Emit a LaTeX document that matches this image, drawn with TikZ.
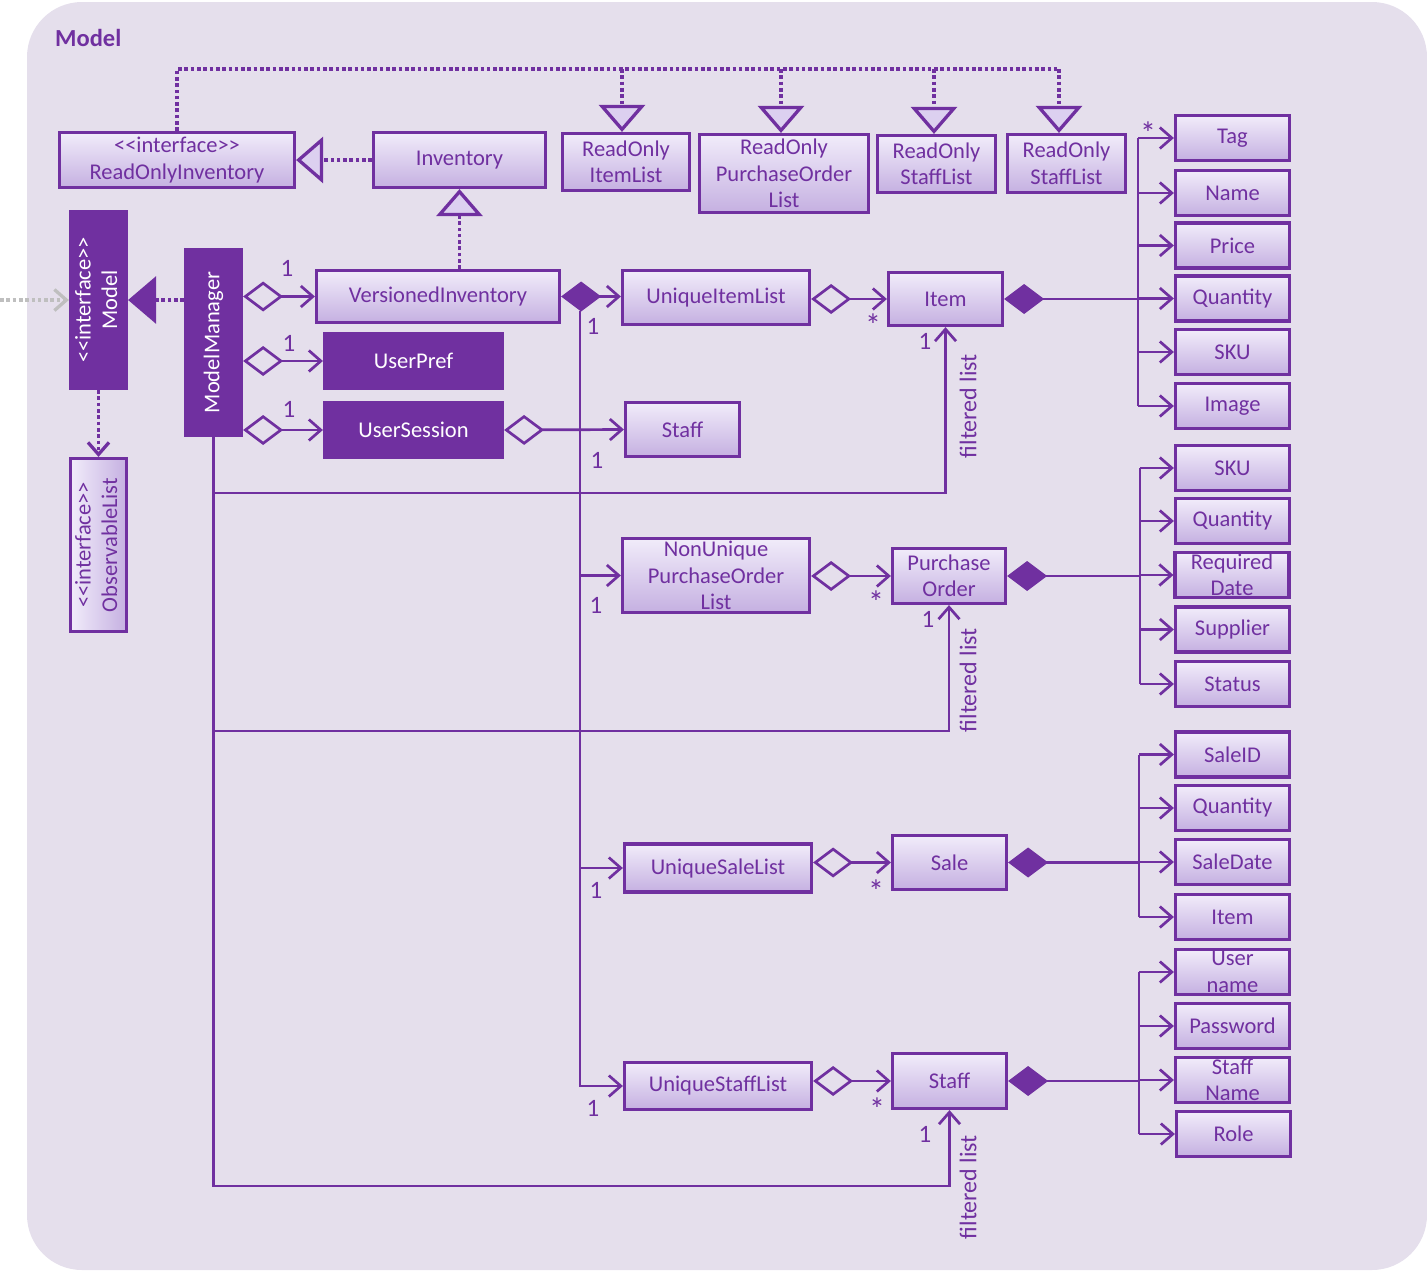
\documentclass[tikz,border=0pt]{standalone}
\usepackage{fontspec}
\setmainfont{Carlito}[Ligatures=TeXOff]
\usetikzlibrary{arrows.meta}
\definecolor{pur}{HTML}{7030A0}
\definecolor{bgc}{HTML}{E5DFEC}
\definecolor{boxtop}{HTML}{F1ECFA}
\definecolor{boxbot}{HTML}{C5B0E1}
\definecolor{trifill}{HTML}{DCD0F0}
\definecolor{grayc}{HTML}{BFBFBF}

\begin{document}
\begin{tikzpicture}[x=1pt,y=-1pt,
  txt/.style={font=\fontsize{22.5}{26.5}\selectfont},
  sz/.style 2 args={minimum width={#1pt-3pt}, minimum height={#2pt-3pt}},
  cls/.style={txt, draw=pur, line width=3.2pt, top color=boxtop, bottom color=boxbot,
    text=pur, inner sep=0pt, align=center},
  clsh/.style={txt, draw=pur, line width=3.2pt, left color=boxtop, right color=boxbot,
    text=pur, inner sep=0pt, align=center},
  dark/.style={txt, draw=pur, fill=pur, line width=3.2pt, text=white, inner sep=0pt, align=center},
  attr/.style={cls, sz={117}{48}},
  mult/.style={font=\fontsize{25}{28}\selectfont, text=pur, inner sep=0pt},
  star/.style={font=\fontsize{32}{34}\selectfont, text=pur, inner sep=0pt},
  side/.style={font=\fontsize{24}{28}\selectfont, text=pur, inner sep=0pt},
  conn/.style={draw=pur, line width=2.7pt},
  dotl/.style={draw=pur, line width=3.3pt, dash pattern=on 3.6pt off 2.7pt},
  harrow/.style={-{Straight Barb[length=12pt,width=21pt]}},
  aggar/.style={{Diamond[open,length=40pt,width=30pt]}-{Straight Barb[length=12pt,width=21pt]}},
  compar/.style={{Diamond[length=40pt,width=30pt]}-{Straight Barb[length=12pt,width=21pt]}},
  comp/.style={{Diamond[length=40pt,width=30pt]}-},
  real/.style={-{Triangle[length=27pt,width=46pt,fill=trifill]}},
  filledtri/.style={-{Triangle[length=28pt,width=47pt]}}
]
\useasboundingbox (0,0) rectangle (1427,1270);
\fill[bgc, rounded corners=55pt] (27,2) rectangle (1427,1270);

\node[font=\fontsize{24.5}{28}\selectfont\bfseries, text=pur, anchor=base west, inner sep=0pt] (title) at (55,46) {Model};

% read-only interfaces and inventory
\node[cls, sz={238}{58}] (roi) at (177,160) {<<interface>>\\ReadOnlyInventory};
\node[cls, sz={175}{58}] (inv) at (459.5,160) {Inventory};
\node[cls, sz={130}{60}] (rol) at (626,162) {ReadOnly\\ItemList};
\node[cls, sz={172}{81}] (ropo) at (784,173.5) {ReadOnly\\PurchaseOrder\\List};
\node[cls, sz={121}{60}] (rosa) at (936.5,164) {ReadOnly\\StaffList};
\node[cls, sz={121}{61}] (rosb) at (1066.5,163.5) {ReadOnly\\StaffList};

% model side
\node[dark, sz={59}{180}] (model) at (98.5,300) {\rotatebox{90}{\begin{tabular}{@{}c@{}}<<interface>>\\Model\end{tabular}}};
\node[dark, sz={59}{189}] (mm) at (213.5,342.5) {\rotatebox{90}{ModelManager}};
\node[clsh, sz={59}{176}] (obs) at (98.5,545) {\rotatebox{90}{\begin{tabular}{@{}c@{}}<<interface>>\\ObservableList\end{tabular}}};

\node[cls, sz={246}{55}] (vi) at (438,296.5) {VersionedInventory};
\node[dark, sz={181}{58}] (up) at (413.5,361) {UserPref};
\node[dark, sz={181}{58}] (us) at (413.5,430) {UserSession};
\node[cls, sz={117}{57}] (staffA) at (682.5,429.5) {Staff};

% lists and their elements
\node[cls, sz={190}{57}] (uil) at (716,297.5) {UniqueItemList};
\node[cls, sz={117}{56}] (item) at (945.5,299) {Item};
\node[cls, sz={190}{77}] (npol) at (716,575.5) {NonUnique\\PurchaseOrder\\List};
\node[cls, sz={116}{58}] (po) at (949,576) {Purchase\\Order};
\node[cls, sz={190}{51}] (usl) at (718,868) {UniqueSaleList};
\node[cls, sz={117}{57}] (sale) at (949.5,862.5) {Sale};
\node[cls, sz={190}{50}] (ustl) at (718,1086) {UniqueStaffList};
\node[cls, sz={117}{58}] (staffB) at (949.5,1081) {Staff};

% attributes
\node[attr] (tag) at (1232.5,138) {Tag};
\node[attr] (name) at (1232.5,193) {Name};
\node[attr] (price) at (1232.5,245.5) {Price};
\node[attr] (qtyA) at (1232.5,298.5) {Quantity};
\node[attr] (skuA) at (1232.5,352) {SKU};
\node[attr] (image) at (1232.5,406) {Image};

\node[attr] (skuB) at (1232.5,468) {SKU};
\node[attr] (qtyB) at (1232.5,521) {Quantity};
\node[attr] (rdate) at (1232,575) {Required\\Date};
\node[attr] (supplier) at (1232.5,629.5) {Supplier};
\node[attr] (status) at (1232.5,684) {Status};

\node[attr] (saleid) at (1232.5,754.5) {SaleID};
\node[attr] (qtyC) at (1232.5,808) {Quantity};
\node[attr] (saledate) at (1232.5,862) {SaleDate};
\node[attr] (itemB) at (1232.5,917) {Item};

\node[attr] (uname) at (1232.5,972) {User\\name};
\node[attr] (pwd) at (1232.5,1026) {Password};
\node[attr] (sname) at (1232.5,1080) {Staff\\Name};
\node[attr] (role) at (1233.5,1134) {Role};

% realizations
\draw[dotl, real] (inv.west) -- (roi.east);
\draw[dotl, real] (inv.south |- vi.north) -- (inv.south);
\coordinate (rA) at (622,69);
\coordinate (rB) at (781,69);
\coordinate (rC) at (934,69);
\coordinate (rD) at (1059,69);
\draw[dotl] (roi.north) |- (rD);
\draw[dotl, real] (rA) -- (rA |- rol.north);
\draw[dotl, real] (rB) -- (rB |- ropo.north);
\draw[dotl, real] (rC) -- (rC |- rosa.north);
\draw[dotl, real] (rD) -- (rD |- rosb.north);

% model interface
\coordinate (ext) at (0,300);
\draw[dotl, draw=grayc, harrow] (ext) -- (model.west);
\draw[dotl, filledtri] (model.east -| mm.west) -- (model.east);
\draw[dotl, harrow] (model.south) -- (obs.north);

% model manager aggregations
\draw[conn, aggar] (vi.west -| mm.east) -- (vi.west);
\draw[conn, aggar] (up.west -| mm.east) -- (up.west);
\draw[conn, aggar] (us.west -| mm.east) -- (us.west);
\draw[conn, aggar] (us.east) -- (staffA.west);

% versioned inventory compositions
\draw[conn, compar] (vi.east) -- (vi.east -| uil.west);
\coordinate (spine) at (580,311);
\draw[conn, harrow] (spine) |- (ustl.west);
\draw[conn, harrow] (spine |- npol.west) -- (npol.west);
\draw[conn, harrow] (spine |- usl.west) -- (usl.west);

% list aggregations
\draw[conn, aggar] (item.west -| uil.east) -- (item.west);
\draw[conn, aggar] (po.west -| npol.east) -- (po.west);
\draw[conn, aggar] (sale.west -| usl.east) -- (sale.west);
\draw[conn, aggar] (staffB.west -| ustl.east) -- (staffB.west);

% filtered lists
\coordinate (fA) at (0,493);
\coordinate (fB) at (0,731);
\coordinate (fC) at (0,1186);
\draw[conn, harrow] (mm.south) |- (fA -| item.south) -- (item.south);
\draw[conn, harrow] (mm.south) |- (fB -| po.south) -- (po.south);
\draw[conn, harrow] (mm.south) |- (fC -| staffB.south) -- (staffB.south);

% attribute buses
\coordinate (busA) at (1138,0);
\coordinate (busB) at (1140,0);
\coordinate (busC) at (1139,0);
\coordinate (busD) at (1139,0);
\draw[conn, comp] (item.east) -- (item.east -| busA);
\draw[conn] (tag.west -| busA) -- (image.west -| busA);
\foreach \n in {tag,name,price,qtyA,skuA,image}
  \draw[conn, harrow] (\n.west -| busA) -- (\n.west);
\draw[conn, comp] (po.east) -- (po.east -| busB);
\draw[conn] (skuB.west -| busB) -- (status.west -| busB);
\foreach \n in {skuB,qtyB,rdate,supplier,status}
  \draw[conn, harrow] (\n.west -| busB) -- (\n.west);
\draw[conn, comp] (sale.east) -- (sale.east -| busC);
\draw[conn] (saleid.west -| busC) -- (itemB.west -| busC);
\foreach \n in {saleid,qtyC,saledate,itemB}
  \draw[conn, harrow] (\n.west -| busC) -- (\n.west);
\draw[conn, comp] (staffB.east) -- (staffB.east -| busD);
\draw[conn] (uname.west -| busD) -- (role.west -| busD);
\foreach \n in {uname,pwd,sname,role}
  \draw[conn, harrow] (\n.west -| busD) -- (\n.west);

% multiplicities
\node[mult] (m1) at (287,268) {1};
\node[mult] (m2) at (289,343) {1};
\node[mult] (m3) at (289,409) {1};
\node[mult] (m4) at (593,326) {1};
\node[mult] (m5) at (597,460) {1};
\node[mult] (m6) at (596,605) {1};
\node[mult] (m7) at (596,890) {1};
\node[mult] (m8) at (593,1108) {1};
\node[mult] (m9) at (925,341) {1};
\node[mult] (m10) at (928,619) {1};
\node[mult] (m11) at (925,1134) {1};
\node[star] (s1) at (873,325) {*};
\node[star] (s2) at (876,602) {*};
\node[star] (s3) at (876,891) {*};
\node[star] (s4) at (877,1109) {*};
\node[star] (s5) at (1148,133) {*};

% filtered list labels
\node[side, rotate=90] (fl1) at (968,406) {filtered list};
\node[side, rotate=90] (fl2) at (968,680) {filtered list};
\node[side, rotate=90] (fl3) at (968,1187) {filtered list};
\end{tikzpicture}
\end{document}
